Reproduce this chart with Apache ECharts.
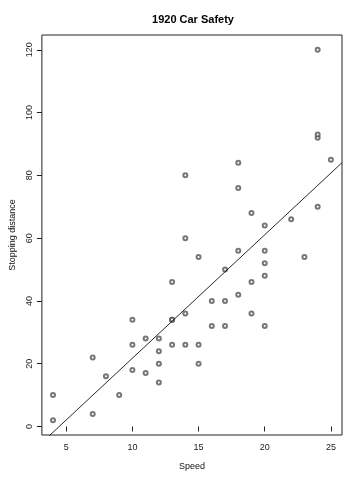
<!DOCTYPE html>
<html><head><meta charset="utf-8">
<script src="https://cdn.jsdelivr.net/npm/echarts@6/dist/echarts.min.js"></script>
<style>html,body{margin:0;padding:0;background:#fff}#c{width:360px;height:480px}</style>
</head><body><div id="c"></div>
<script>
var speed = [4,4,7,7,8,9,10,10,10,11,11,12,12,12,12,13,13,13,13,14,14,14,14,15,15,15,16,16,17,17,17,18,18,18,18,19,19,19,20,20,20,20,20,22,23,24,24,24,24,25];
var dist = [2,10,4,22,16,10,18,26,34,17,28,14,20,24,28,26,34,34,46,26,36,60,80,20,26,54,32,40,32,40,50,42,56,76,84,36,46,68,32,48,52,56,64,66,54,70,92,93,120,85];
var xTicks = [5,10,15,20,25];
var yTicks = [0,20,40,60,80,100,120];

// least squares fit
var n = speed.length, mx = 0, my = 0;
for (var i = 0; i < n; i++) { mx += speed[i]; my += dist[i]; }
mx /= n; my /= n;
var sxy = 0, sxx = 0;
for (var i = 0; i < n; i++) { sxy += (speed[i]-mx)*(dist[i]-my); sxx += (speed[i]-mx)*(speed[i]-mx); }
var b = sxy / sxx, a = my - b * mx;

function ext(arr){ var lo=Math.min.apply(null,arr), hi=Math.max.apply(null,arr), d=(hi-lo)*0.04; return [lo-d, hi+d]; }
var xr = ext(speed), yr = ext(dist);

var pts = speed.map(function(s,i){ return [s, dist[i]]; });
var fit = [[xr[0], a + b*xr[0]], [xr[1], a + b*xr[1]]];

var chart = echarts.init(document.getElementById('c'));
var font = '"Liberation Sans", Arial, sans-serif';
chart.setOption({
  animation: false,
  title: { text: '1920 Car Safety', left: 188, textAlign: 'center', top: 9,
    textStyle: { fontFamily: font, fontSize: 11, fontWeight: 'bold', color: '#000' } },
  grid: { left: 35, right: 18, top: 35, bottom: 45, show: true, borderColor: '#222', borderWidth: 1, backgroundColor: 'transparent' },
  xAxis: { type: 'value', min: xr[0], max: xr[1],
    name: 'Speed', nameLocation: 'middle', nameGap: 27,
    nameTextStyle: { fontFamily: font, fontSize: 9, color: '#111' },
    axisLine: { show: false }, splitLine: { show: false },
    axisTick: { show: true, customValues: xTicks, length: 5, lineStyle: { color: '#222' } },
    axisLabel: { customValues: xTicks, fontFamily: font, fontSize: 9, color: '#222', margin: 8 } },
  yAxis: { type: 'value', min: yr[0], max: yr[1],
    name: 'Stopping distance', nameLocation: 'middle', nameGap: 23,
    nameTextStyle: { fontFamily: font, fontSize: 9, color: '#111' },
    axisLine: { show: false }, splitLine: { show: false },
    axisTick: { show: true, customValues: yTicks, length: 5, lineStyle: { color: '#222' } },
    axisLabel: { customValues: yTicks, rotate: 90, fontFamily: font, fontSize: 9, color: '#222', margin: 8 } },
  series: [
    { type: 'scatter', data: pts, symbol: 'emptyCircle', symbolSize: 4,
      itemStyle: { color: '#555', borderColor: '#555', borderWidth: 0.7 } },
    { type: 'line', data: fit, symbol: 'none', clip: true,
      lineStyle: { color: '#111', width: 0.9 } }
  ]
});
</script></body></html>
